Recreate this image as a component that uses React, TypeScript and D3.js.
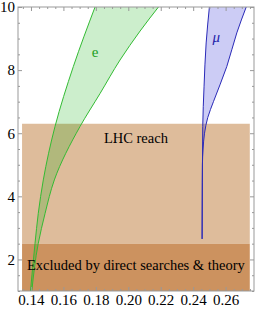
import React, { useRef, useEffect } from 'react';
import * as d3 from 'd3';

// e band edges (y value, x value)
const eLeftY = [1, 2.51, 3.46, 4.52, 6.21, 8.11, 10];
const eLeftX = [0.1397, 0.1425, 0.1445, 0.1476, 0.1548, 0.1661, 0.1795];
const eRightY = [1, 2.51, 3.46, 4.52, 6.21, 7.26, 8.32, 9.24, 10];
const eRightX = [0.1405, 0.1445, 0.1487, 0.1544, 0.1702, 0.1826, 0.1949, 0.2073, 0.2186];

// mu band edges
const muLeftY = [2.65, 6.21, 7.47, 8.86, 10];
const muLeftX = [0.2455, 0.2459, 0.2467, 0.248, 0.25];
const muRightY = [2.65, 5.0, 5.5, 6.0, 6.5, 7.0, 8.11, 9.18, 10];
const muRightX = [0.2455, 0.2457, 0.2461, 0.247, 0.249, 0.2525, 0.2607, 0.2669, 0.2727];

// shaded regions
const bandX = [0.1345, 0.2749];
const lhcY = [2.5, 6.3];
const excludedY = [1, 2.5];

const xTicks = [0.14, 0.16, 0.18, 0.2, 0.22, 0.24, 0.26];
const yTicks = [2, 4, 6, 8, 10];

const W = 275;
const H = 309;

const App: React.FC = () => {
  const svgRef = useRef<SVGSVGElement>(null);

  useEffect(() => {
    if (!svgRef.current) return;
    d3.select(svgRef.current).selectAll('*').remove();

    const margin = { top: 7, right: 21, bottom: 18, left: 18 };
    const innerWidth = W - margin.left - margin.right;
    const innerHeight = H - margin.top - margin.bottom;

    const svg = d3
      .select(svgRef.current)
      .attr('width', W)
      .attr('height', H)
      .append('g')
      .attr('transform', `translate(${margin.left},${margin.top})`);

    const x = d3.scaleLinear().domain([0.132, 0.2775]).range([0, innerWidth]);
    const y = d3.scaleLinear().domain([1, 10]).range([innerHeight, 0]);

    svg
      .append('clipPath')
      .attr('id', 'plot-clip')
      .append('rect')
      .attr('width', innerWidth)
      .attr('height', innerHeight);

    const plot = svg.append('g').attr('clip-path', 'url(#plot-clip)');

    // Bands
    plot
      .append('rect')
      .attr('x', x(bandX[0]))
      .attr('width', x(bandX[1]) - x(bandX[0]))
      .attr('y', y(lhcY[1]))
      .attr('height', y(lhcY[0]) - y(lhcY[1]))
      .attr('fill', '#debc9b');

    plot
      .append('rect')
      .attr('x', x(bandX[0]))
      .attr('width', x(bandX[1]) - x(bandX[0]))
      .attr('y', y(excludedY[1]))
      .attr('height', y(excludedY[0]) - y(excludedY[1]))
      .attr('fill', '#cc925f');

    const line = d3
      .line<[number, number]>()
      .x((d) => x(d[0]))
      .y((d) => y(d[1]))
      .curve(d3.curveMonotoneY);

    const pts = (xs: number[], ys: number[]) => xs.map((v, i) => [v, ys[i]] as [number, number]);

    const drawBand = (
      lx: number[], ly: number[], rx: number[], ry: number[],
      fill: string, stroke: string
    ) => {
      const left = pts(lx, ly);
      const right = pts(rx, ry);
      const leftD = line(left) as string;
      const rightD = (line(right.slice().reverse()) as string).replace(/^M/, 'L');
      plot
        .append('path')
        .attr('d', leftD + rightD + 'Z')
        .attr('fill', fill)
        .attr('fill-opacity', 0.2);
      [left, right].forEach((p) => {
        plot
          .append('path')
          .attr('d', line(p) as string)
          .attr('fill', 'none')
          .attr('stroke', stroke)
          .attr('stroke-width', 1);
      });
    };

    drawBand(eLeftX, eLeftY, eRightX, eRightY, '#00aa00', '#33bb33');
    drawBand(muLeftX, muLeftY, muRightX, muRightY, '#0000cc', '#2a2ab8');

    // Labels
    const serif = '"Liberation Serif", "Times New Roman", serif';
    plot
      .append('text')
      .attr('x', x((bandX[0] + bandX[1]) / 2))
      .attr('y', y(lhcY[1]) + 19)
      .attr('text-anchor', 'middle')
      .style('font-family', serif)
      .style('font-size', '14.5px')
      .text('LHC reach');

    plot
      .append('text')
      .attr('x', x((bandX[0] + bandX[1]) / 2))
      .attr('y', y(excludedY[1]) + 26)
      .attr('text-anchor', 'middle')
      .style('font-family', serif)
      .style('font-size', '14.5px')
      .text('Excluded by direct searches & theory');

    plot
      .append('text')
      .attr('x', x(0.1795))
      .attr('y', y(8.42))
      .attr('text-anchor', 'middle')
      .style('font-family', serif)
      .style('font-size', '15px')
      .attr('fill', '#22a022')
      .text('e');

    plot
      .append('text')
      .attr('x', x(0.2542))
      .attr('y', y(8.88))
      .attr('text-anchor', 'middle')
      .style('font-family', serif)
      .style('font-size', '15px')
      .style('font-style', 'italic')
      .attr('fill', '#2222aa')
      .text('μ');

    // Frame and ticks
    const xMinor = d3.range(0.135, 0.2776, 0.005).filter((v) => !xTicks.some((t) => Math.abs(t - v) < 1e-6));
    const yMinor = d3.range(1, 10.01, 0.5).filter((v) => !yTicks.includes(v));

    const styleAxis = (g: d3.Selection<SVGGElement, unknown, null, undefined>) => {
      g.select('.domain').remove();
      g.selectAll('line').attr('stroke', '#999');
      g.selectAll('text')
        .style('font-family', serif)
        .style('font-size', '15px')
        .attr('fill', '#000');
    };

    const fmtX = d3.format('.2f');

    svg.append('g').attr('transform', `translate(0,${innerHeight})`)
      .call(d3.axisBottom(x).tickValues(xTicks).tickSize(-4).tickPadding(3).tickFormat((d) => fmtX(d as number)))
      .call(styleAxis);
    svg.append('g').attr('transform', `translate(0,${innerHeight})`)
      .call(d3.axisBottom(x).tickValues(xMinor).tickSize(-2).tickFormat(() => ''))
      .call(styleAxis);
    svg.append('g')
      .call(d3.axisTop(x).tickValues(xTicks).tickSize(-4).tickFormat(() => ''))
      .call(styleAxis);
    svg.append('g')
      .call(d3.axisTop(x).tickValues(xMinor).tickSize(-2).tickFormat(() => ''))
      .call(styleAxis);

    svg.append('g')
      .call(d3.axisLeft(y).tickValues(yTicks).tickSize(-4).tickPadding(3).tickFormat((d) => String(d)))
      .call(styleAxis);
    svg.append('g')
      .call(d3.axisLeft(y).tickValues(yMinor).tickSize(-2).tickFormat(() => ''))
      .call(styleAxis);
    svg.append('g').attr('transform', `translate(${innerWidth},0)`)
      .call(d3.axisRight(y).tickValues(yTicks).tickSize(-4).tickFormat(() => ''))
      .call(styleAxis);
    svg.append('g').attr('transform', `translate(${innerWidth},0)`)
      .call(d3.axisRight(y).tickValues(yMinor).tickSize(-2).tickFormat(() => ''))
      .call(styleAxis);

    svg
      .append('rect')
      .attr('width', innerWidth)
      .attr('height', innerHeight)
      .attr('fill', 'none')
      .attr('stroke', '#999')
      .attr('stroke-width', 1);
  }, []);

  return (
    <div style={{ position: 'absolute', left: 0, top: 0 }}>
      <svg ref={svgRef} style={{ display: 'block' }}></svg>
    </div>
  );
};

export default App;
